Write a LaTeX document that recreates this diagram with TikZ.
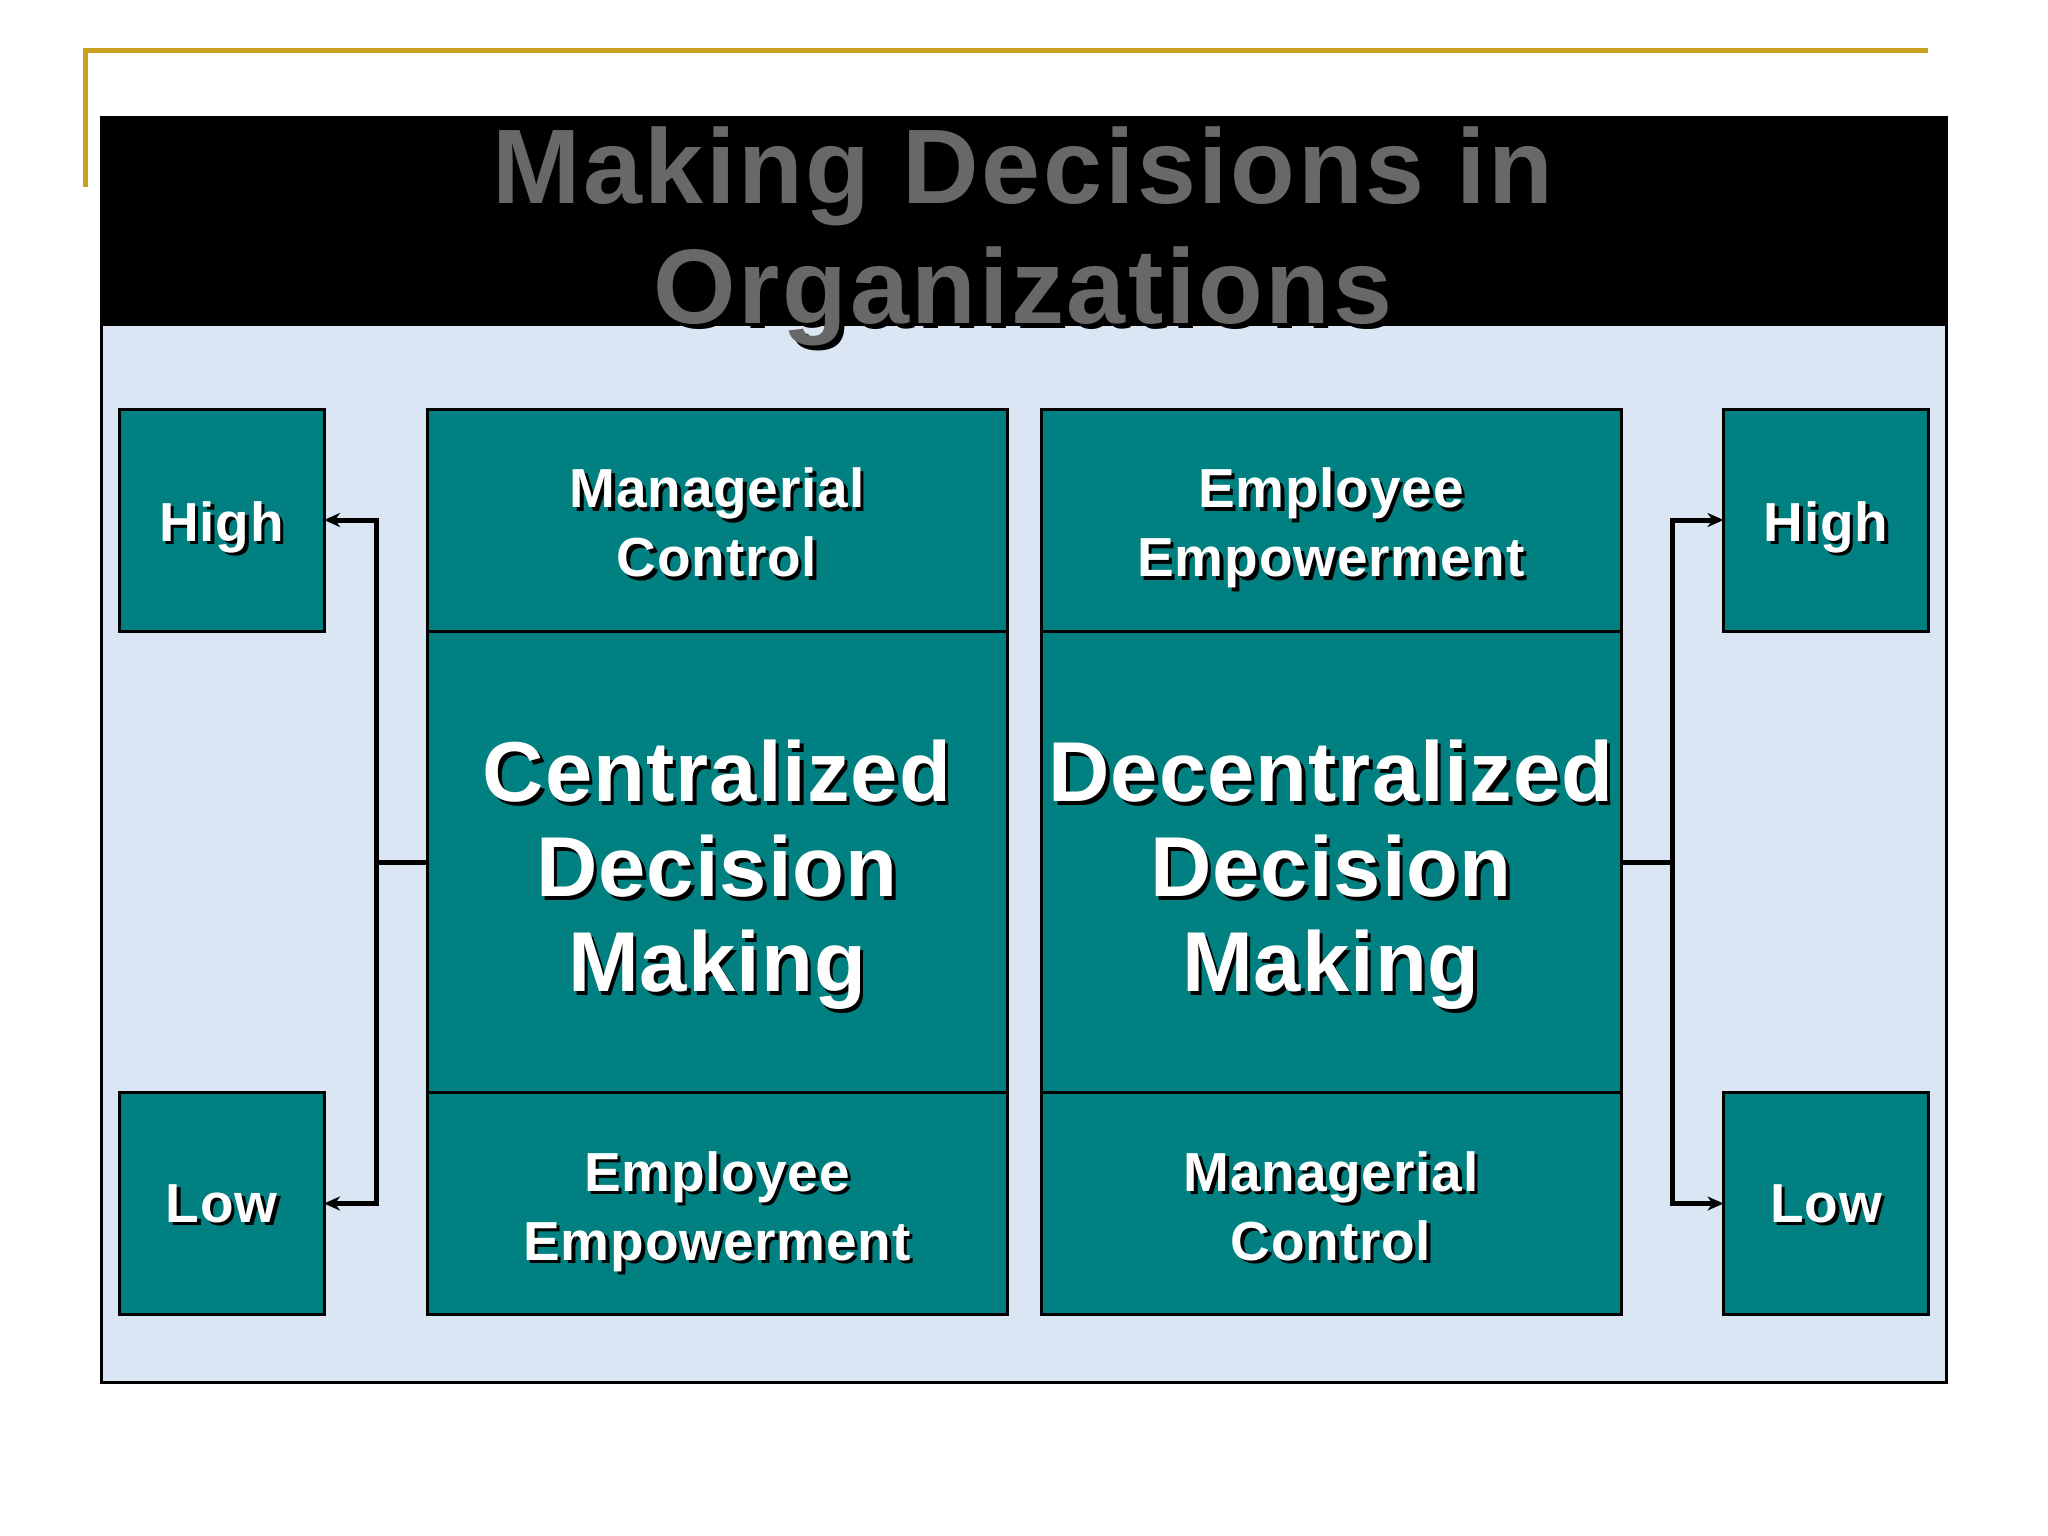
\documentclass[tikz,border=0pt]{standalone}
\usepackage{fontspec}
\setmainfont{Liberation Sans}
\usetikzlibrary{arrows.meta,calc}
\definecolor{boxteal}{RGB}{0,128,128}
\definecolor{paleblue}{RGB}{218,230,244}
\definecolor{rulegold}{RGB}{201,160,32}
\definecolor{titlegray}{RGB}{104,104,104}
\tikzset{%
    box/.style={draw=black, line width=3pt, fill=boxteal, inner sep=0pt, outer sep=0pt},
    sbox/.style={box, minimum width=205pt, minimum height=222pt},
    wbox/.style={box, minimum width=580pt, minimum height=222pt},
    bbox/.style={box, minimum width=580pt, minimum height=462pt},
    lab/.style={text=white, align=center, inner sep=0pt,
        font=\bfseries\fontsize{55pt}{69pt}\selectfont\addfontfeatures{LetterSpace=1.5}},
    big/.style={lab, font=\bfseries\fontsize{85pt}{95pt}\selectfont\addfontfeatures{LetterSpace=1.2}},
    ttl/.style={text=titlegray, align=center, inner sep=0pt, anchor=north,
        font=\bfseries\fontsize{106pt}{120pt}\selectfont\addfontfeatures{LetterSpace=2.5}},
    conn/.style={line width=5pt},
    arr/.style={line width=5pt, -{Stealth[length=16pt, width=14pt, inset=5pt]}},
}
% text with a dark drop shadow: [extra] style, node, text
\newcommand{\shtxt}[4][]{%
    \node[#2,#1,text=black] (#3-s) at ($(#3)+(3.5,3.5)$) {#4};
    \node[#2,#1] (#3-t) at (#3) {#4};}

\begin{document}
\begin{tikzpicture}[x=1pt, y=-1pt]
    \useasboundingbox (0,0) rectangle (2048,1536);
    \fill[white] (0,0) rectangle (2048,1536);
    \draw[rulegold, line width=5pt] (85,187) -- (85,51) -- (1928,51);
    % panel and title bar
    \fill[paleblue] (101,326) rectangle (1946,1382);
    \fill[black] (101,118) rectangle (1946,326);
    \draw[line width=3pt] (101,118) rectangle (1946,1382);
    % boxes
    \node[sbox] (hiL) at (221.5,520) {};
    \node[sbox] (loL) at (221.5,1203.5) {};
    \node[wbox] (mcL) at (717,520) {};
    \node[bbox] (cdm) at (717,862) {};
    \node[wbox] (epL) at (717,1203.5) {};
    \node[wbox] (epR) at (1331,520) {};
    \node[bbox] (ddm) at (1331,862) {};
    \node[wbox] (mcR) at (1331,1203.5) {};
    \node[sbox] (hiR) at (1826,520) {};
    \node[sbox] (loR) at (1826,1203.5) {};
    % labels
    \shtxt[yshift=-7pt]{lab}{hiL}{High}
    \shtxt{lab}{loL}{Low}
    \shtxt[yshift=-7pt]{lab}{hiR}{High}
    \shtxt{lab}{loR}{Low}
    \shtxt[yshift=-2.5pt]{lab}{mcL}{Managerial\\Control}
    \shtxt[yshift=-8pt]{lab}{epL}{Employee\\Empowerment}
    \shtxt[yshift=-8pt]{lab}{epR}{Employee\\Empowerment}
    \shtxt[yshift=-2.5pt]{lab}{mcR}{Managerial\\Control}
    \shtxt[yshift=-13pt]{big}{cdm}{Centralized\\Decision\\Making}
    \shtxt[yshift=-13pt]{big}{ddm}{Decentralized\\Decision\\Making}
    % connectors
    \coordinate (jL) at ($(cdm.west)+(-51,0)$);
    \coordinate (jR) at ($(ddm.east)+(51,0)$);
    \draw[conn] (cdm.west) -- (jL);
    \draw[arr] (jL) |- (hiL.east);
    \draw[arr] (jL) |- (loL.east);
    \draw[conn] (ddm.east) -- (jR);
    \draw[arr] (jR) |- (hiR.west);
    \draw[arr] (jR) |- (loR.west);
    % title
    \node[ttl, text=black] (title-s) at (1028,131) {Making Decisions in\\Organizations};
    \node[ttl] (title) at (1023,126) {Making Decisions in\\Organizations};
\end{tikzpicture}
\end{document}
